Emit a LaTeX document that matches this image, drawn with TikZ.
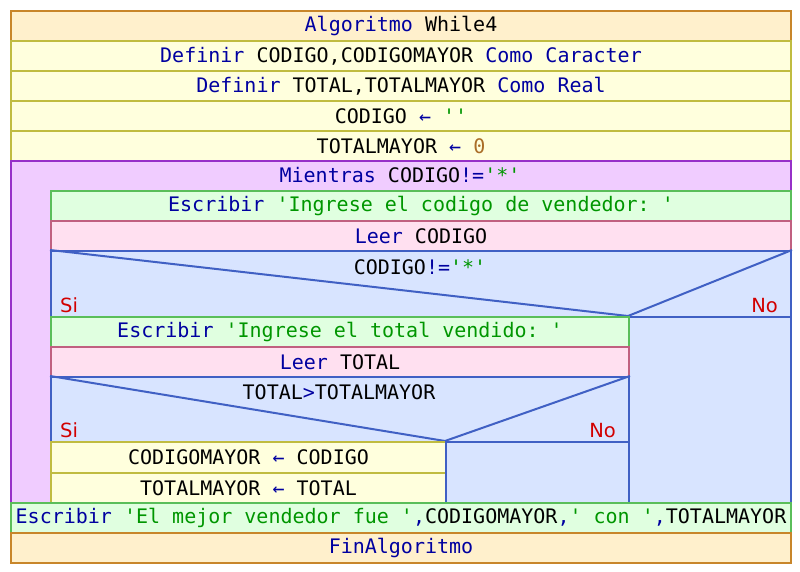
\documentclass[tikz,border=0pt]{standalone}
\usepackage{fontspec}
\setmonofont{DejaVu Sans Mono}
\newfontfamily\branchfont{DejaVu Sans}
\usetikzlibrary{positioning, calc}
\definecolor{procfill}{RGB}{255,240,204}
\definecolor{procline}{RGB}{200,134,42}
\definecolor{asigfill}{RGB}{255,255,221}
\definecolor{asigline}{RGB}{192,188,64}
\definecolor{loopfill}{RGB}{240,204,255}
\definecolor{loopline}{RGB}{150,48,200}
\definecolor{escfill}{RGB}{224,255,224}
\definecolor{escline}{RGB}{90,190,90}
\definecolor{leerfill}{RGB}{255,224,240}
\definecolor{leerline}{RGB}{192,96,128}
\definecolor{iffill}{RGB}{216,228,255}
\definecolor{ifline}{RGB}{64,96,196}
\definecolor{kwblue}{RGB}{0,0,160}
\definecolor{strgreen}{RGB}{0,150,0}
\definecolor{numbrown}{RGB}{170,110,40}
\definecolor{branchred}{RGB}{210,0,0}
\newcommand{\kwd}[1]{\textcolor{kwblue}{#1}}
\newcommand{\strg}[1]{\textcolor{strgreen}{#1}}
\newcommand{\numb}[1]{\textcolor{numbrown}{#1}}
\tikzset{
  nsbox/.style={line width=2pt, minimum height=30pt, inner sep=0pt, anchor=north west},
  procbox/.style={nsbox, fill=procfill, draw=procline},
  asigbox/.style={nsbox, fill=asigfill, draw=asigline},
  loopbox/.style={nsbox, fill=loopfill, draw=loopline},
  escbox/.style={nsbox, fill=escfill, draw=escline},
  leerbox/.style={nsbox, fill=leerfill, draw=leerline},
  ifbox/.style={nsbox, fill=iffill, draw=ifline},
  ifdiag/.style={draw=ifline, line width=2pt},
  branchlabel/.style={font=\branchfont\fontsize{19.5}{22}\selectfont, text=branchred, inner sep=0pt}
}

\begin{document}
\begin{tikzpicture}[x=1pt, y=-1pt, font=\ttfamily\fontsize{20}{22}\selectfont]
  \useasboundingbox (0,0) rectangle (800,572);
  % Cabecera y definiciones
  \node[procbox, minimum width=780pt] (alg) at (10,10) {\kwd{Algoritmo} While4};
  \node[asigbox, minimum width=780pt] (def1) at (10,40) {\kwd{Definir} CODIGO,CODIGOMAYOR \kwd{Como Caracter}};
  \node[asigbox, minimum width=780pt] (def2) at (10,70) {\kwd{Definir} TOTAL,TOTALMAYOR \kwd{Como Real}};
  \node[asigbox, minimum width=780pt] (asig1) at (10,100) {CODIGO \kwd{←} \strg{''}};
  \node[asigbox, minimum width=780pt] (asig2) at (10,130) {TOTALMAYOR \kwd{←} \numb{0}};
  % Mientras
  \node[loopbox, minimum width=780pt, minimum height=342pt] (loop) at (10,160) {};
  \node (looptxt) at (400,175) {\kwd{Mientras} CODIGO\kwd{!=}\strg{'*'}};
  \node[escbox, minimum width=740pt] (esc1) at (50,190) {\kwd{Escribir} \strg{'Ingrese el codigo de vendedor: '}};
  \node[leerbox, minimum width=740pt] (leer1) at (50,220) {\kwd{Leer} CODIGO};
  % Si CODIGO!='*'
  \node[ifbox, minimum width=740pt, minimum height=66pt] (if1) at (50,250) {};
  \coordinate (if1split) at (628,316);
  \draw[ifdiag] (if1.north west) -- (if1split) -- (if1.north east);
  \node (if1txt) at (420,267) {CODIGO\kwd{!=}\strg{'*'}};
  \node[branchlabel, anchor=base west] (if1si) at (60,312) {Si};
  \node[branchlabel, anchor=base east] (if1no) at (778,312) {No};
  \node[ifbox, minimum width=162pt, minimum height=186pt] (if1none) at (628,316) {};
  \node[escbox, minimum width=578pt] (esc2) at (50,316) {\kwd{Escribir} \strg{'Ingrese el total vendido: '}};
  \node[leerbox, minimum width=578pt] (leer2) at (50,346) {\kwd{Leer} TOTAL};
  % Si TOTAL>TOTALMAYOR
  \node[ifbox, minimum width=578pt, minimum height=65pt] (if2) at (50,376) {};
  \coordinate (if2split) at (445,441);
  \draw[ifdiag] (if2.north west) -- (if2split) -- (if2.north east);
  \node (if2txt) at (339,392) {TOTAL\kwd{>}TOTALMAYOR};
  \node[branchlabel, anchor=base west] (if2si) at (60,437) {Si};
  \node[branchlabel, anchor=base east] (if2no) at (616,437) {No};
  \node[asigbox, minimum width=395pt, minimum height=31pt] (asig3) at (50,441) {CODIGOMAYOR \kwd{←} CODIGO};
  \node[asigbox, minimum width=395pt] (asig4) at (50,472) {TOTALMAYOR \kwd{←} TOTAL};
  \node[ifbox, minimum width=183pt, minimum height=61pt] (if2none) at (445,441) {};
  % Salida y fin
  \node[escbox, minimum width=780pt] (esc3) at (10,502) {\kwd{Escribir} \strg{'El mejor vendedor fue '}\kwd{,}CODIGOMAYOR\kwd{,}\strg{' con '}\kwd{,}TOTALMAYOR};
  \node[procbox, minimum width=780pt] (fin) at (10,532) {\kwd{FinAlgoritmo}};
\end{tikzpicture}
\end{document}
